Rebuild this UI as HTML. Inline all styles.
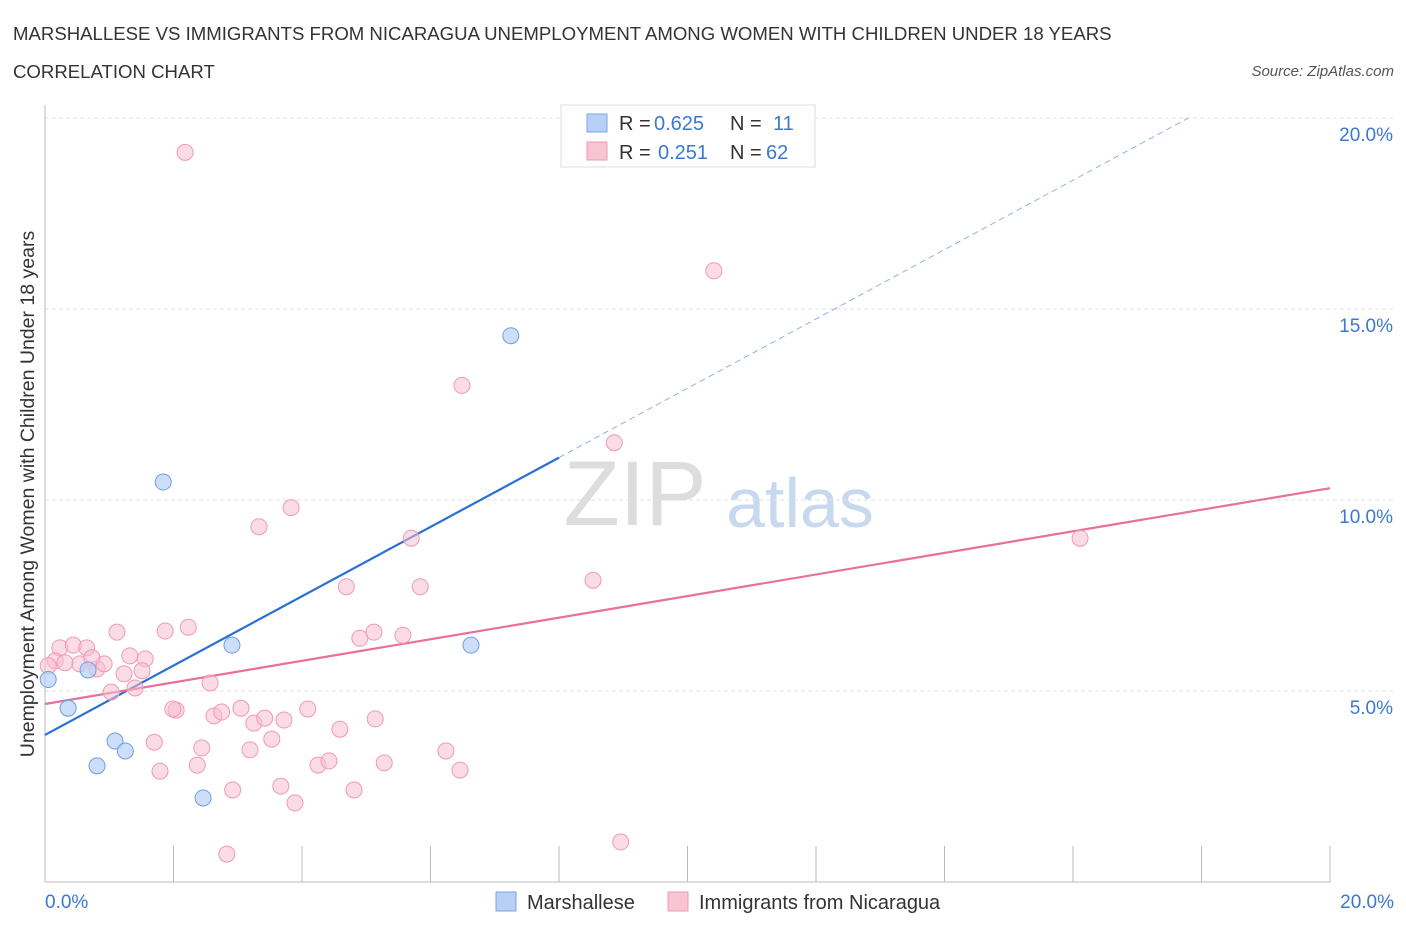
<!DOCTYPE html>
<html><head><meta charset="utf-8"><style>
body{margin:0;background:#fff;font-family:"Liberation Sans",sans-serif;}
svg text{font-family:"Liberation Sans",sans-serif;}
</style></head><body>
<svg id="c" width="1406" height="930">
<text x="13" y="40" font-size="18.6" fill="#333">MARSHALLESE VS IMMIGRANTS FROM NICARAGUA UNEMPLOYMENT AMONG WOMEN WITH CHILDREN UNDER 18 YEARS</text>
<text x="13" y="78" font-size="18.6" fill="#333">CORRELATION CHART</text>
<text x="1394" y="76" font-size="15" fill="#555" font-style="italic" text-anchor="end">Source: ZipAtlas.com</text>
<text x="635" y="525" font-size="92" fill="#ddd" font-family="Liberation Serif" text-anchor="middle">ZIP</text>
<text x="800" y="527" font-size="70" fill="#c8d9ef" text-anchor="middle">atlas</text>
<text transform="translate(34,494) rotate(-90)" font-size="19.5" fill="#333" text-anchor="middle">Unemployment Among Women with Children Under 18 years</text>
<g id="grid"></g><g id="trend"></g><g id="pts"></g>
<g>
<rect x="561" y="105" width="254" height="62" fill="#fff" stroke="#ddd"/>
<rect x="587" y="114" width="20" height="18" fill="#b8d0f5" stroke="#7aa5e6"/>
<text x="619" y="130" font-size="20" fill="#333">R =</text>
<text x="654" y="130" font-size="20" fill="#3a78d4">0.625</text>
<text x="730" y="130" font-size="20" fill="#333">N =</text>
<text x="773" y="130" font-size="20" fill="#3a78d4">11</text>
<rect x="587" y="142" width="20" height="18" fill="#f8c4d4" stroke="#ef9ab5"/>
<text x="619" y="159" font-size="20" fill="#333">R =</text>
<text x="658" y="159" font-size="20" fill="#3a78d4">0.251</text>
<text x="730" y="159" font-size="20" fill="#333">N =</text>
<text x="766" y="159" font-size="20" fill="#3a78d4">62</text>
</g>
<g>
<rect x="496" y="892" width="20" height="19" fill="#b8d0f5" stroke="#7aa5e6"/>
<text x="527" y="909" font-size="20" fill="#333">Marshallese</text>
<rect x="668" y="892" width="20" height="19" fill="#f8c4d4" stroke="#ef9ab5"/>
<text x="699" y="909" font-size="20" fill="#333">Immigrants from Nicaragua</text>
</g>
</svg>
<script>
const blueX=[0.05,0.36,0.67,0.81,1.09,1.25,1.84,2.46,2.91,6.63,7.25];
const blueY=[5.3,4.55,5.55,3.04,3.69,3.43,10.47,2.2,6.2,6.2,14.3];
const pinkX=[2.18,10.41,6.49,8.86,3.83,3.33,5.7,16.11,8.53,4.69,5.84,1.12,1.87,2.23,4.90,5.12,5.57,0.23,0.44,0.65,0.16,0.54,0.81,0.92,0.73,1.32,1.56,1.23,1.51,1.03,1.40,2.57,2.04,1.99,2.63,2.75,3.05,3.25,3.42,3.72,4.09,3.53,4.59,5.14,1.70,2.44,3.19,6.24,2.37,4.25,4.42,5.28,1.79,6.46,2.92,3.67,4.81,3.89,2.83,8.96,0.05,0.31];
const pinkY=[19.1,16.0,13.0,11.5,9.8,9.3,9.0,9.0,7.9,7.73,7.73,6.54,6.57,6.67,6.38,6.54,6.46,6.13,6.2,6.13,5.79,5.71,5.58,5.71,5.87,5.92,5.84,5.45,5.53,4.97,5.08,5.21,4.5,4.53,4.35,4.45,4.55,4.16,4.29,4.24,4.53,3.74,4.0,4.27,3.66,3.51,3.46,3.43,3.06,3.06,3.17,3.12,2.9,2.93,2.41,2.51,2.41,2.07,0.73,1.05,5.66,5.74];
const blueTrend=[3.85,22.0];
const pinkTrend=[4.66,10.31];
const xTicks=[0,2,4,6,8,10,12,14,16,18,20];
const yTicks=[5,10,15,20];
const yLabels=["5.0%","10.0%","15.0%","20.0%"];
const sx=v=>45+v/20*1285, sy=v=>882-v/5*191;
const NS="http://www.w3.org/2000/svg";
function mk(p,tag,a){const e=document.createElementNS(NS,tag);for(const k in a)e.setAttribute(k,a[k]);p.appendChild(e);return e;}
const g=document.getElementById('grid');
yTicks.forEach((t,i)=>{
 const l=mk(g,'line',{x1:45,x2:1395,y1:sy(t),y2:sy(t),stroke:'#e2e2e2','stroke-dasharray':'4,3'});
 
 
 const tx=mk(g,'text',{x:1393,y:sy(t)+23,'font-size':19,fill:'#3a78d4','text-anchor':'end'});tx.textContent=yLabels[i];
 
 
});
const ax=mk(g,'line',{x1:45,x2:1330,y1:882,y2:882,stroke:'#bbb'});


const ay=mk(g,'line',{x1:45,x2:45,y1:105,y2:882,stroke:'#bbb'});


xTicks.forEach(t=>{const l=mk(g,'line',{x1:sx(t),x2:sx(t),y1:846,y2:882,stroke:'#bbb'});
 
 });
[[0,'0.0%','start',45],[20,'20.0%','end',1394]].forEach(d=>{const t=mk(g,'text',{x:d[3],y:908,'font-size':19,fill:'#3a78d4','text-anchor':d[2]});t.textContent=d[1];
 
 });
const tr=document.getElementById('trend');
const bAt=x=>blueTrend[0]+(blueTrend[1]-blueTrend[0])*x/20;
const xs=8.0, xe=(20-blueTrend[0])/(blueTrend[1]-blueTrend[0])*20;
const b1=mk(tr,'line',{x1:sx(0),y1:sy(bAt(0)),x2:sx(xs),y2:sy(bAt(xs)),stroke:'#2a6fd6','stroke-width':2.2});


const b2=mk(tr,'line',{x1:sx(xs),y1:sy(bAt(xs)),x2:sx(xe),y2:sy(20),stroke:'#8fb2e6','stroke-width':1,'stroke-dasharray':'6,4'});


const p1=mk(tr,'line',{x1:sx(0),y1:sy(pinkTrend[0]),x2:sx(20),y2:sy(pinkTrend[1]),stroke:'#e8709a','stroke-width':2.2});


const pg=document.getElementById('pts');
pinkX.forEach((x,i)=>{const c=mk(pg,'circle',{cx:sx(x),cy:sy(pinkY[i]),r:8,fill:'rgba(248,190,208,0.55)',stroke:'#ef9ab5','stroke-width':1});
 
 });
blueX.forEach((x,i)=>{const c=mk(pg,'circle',{cx:sx(x),cy:sy(blueY[i]),r:8,fill:'rgba(184,208,245,0.7)',stroke:'#6f9ee3','stroke-width':1});
 
 });
</script>
</body></html>
